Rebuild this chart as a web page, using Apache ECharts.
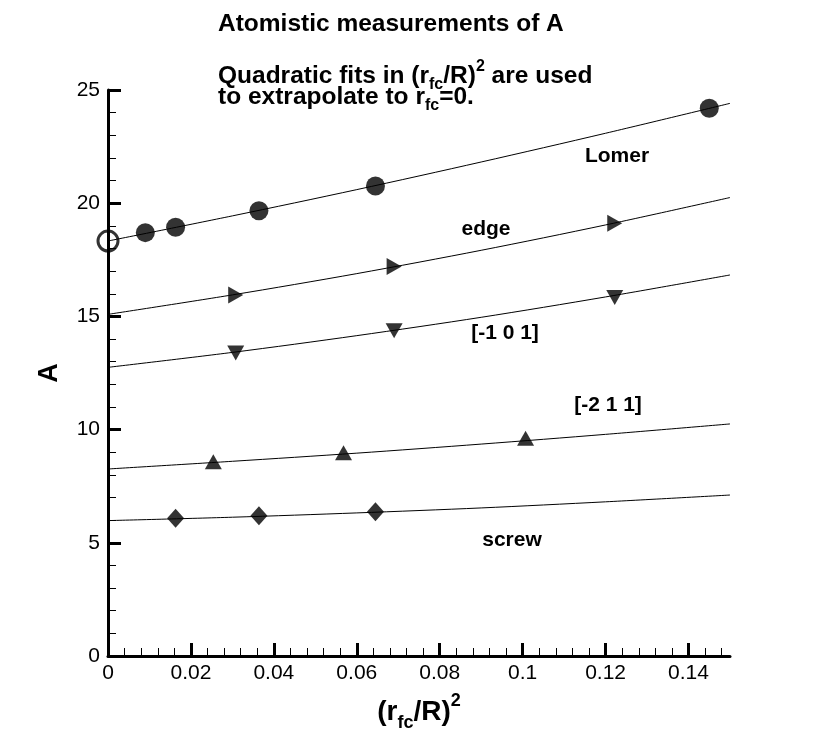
<!DOCTYPE html>
<html>
<head>
<meta charset="utf-8">
<script src="https://cdn.jsdelivr.net/npm/echarts@6/dist/echarts.min.js"></script>
<style>
html,body{margin:0;padding:0;background:#fff;}
#main{width:830px;height:739px;}
</style>
</head>
<body>
<div id="main"></div>
<script>
// ---- data ----
const xTicks = [0, 0.02, 0.04, 0.06, 0.08, 0.1, 0.12, 0.14];
const yTicks = [0, 5, 10, 15, 20, 25];

const fitX = [0, 0.03, 0.06, 0.09, 0.12, 0.15];

const lomerX = [0.009, 0.0163, 0.0364, 0.0645, 0.145];
const lomerY = [18.70, 18.94, 19.67, 20.76, 24.19];
const lomerExtrapX = [0];
const lomerExtrapY = [18.33];
const lomerFit = [18.33, 19.44, 20.60, 21.82, 23.09, 24.41];

const edgeX = [0.0308, 0.069, 0.1222];
const edgeY = [15.94, 17.20, 19.11];
const edgeFit = [15.09, 15.95, 16.89, 17.92, 19.04, 20.25];

const m101X = [0.0308, 0.069, 0.1222];
const m101Y = [13.38, 14.37, 15.84];
const m101Fit = [12.75, 13.41, 14.15, 14.96, 15.86, 16.83];

const m211X = [0.0254, 0.0568, 0.1007];
const m211Y = [8.58, 8.98, 9.62];
const m211Fit = [8.26, 8.60, 8.96, 9.36, 9.79, 10.25];

const screwX = [0.0163, 0.0364, 0.0645];
const screwY = [6.08, 6.20, 6.37];
const screwFit = [5.98, 6.13, 6.32, 6.54, 6.81, 7.11];

const curveLabels = ['Lomer', 'edge', '[-1 0 1]', '[-2 1 1]', 'screw'];

// ---- helpers ----
const F = '"Liberation Sans", Arial, Helvetica, sans-serif';
const pairs = (xs, ys) => xs.map((x, i) => [x, ys[i]]);
const xMinor = [];
for (let i = 0; i < xTicks.length; i++) {
  for (let k = 1; k < 5; k++) {
    const v = +(xTicks[i] + k * 0.004).toFixed(3);
    if (v < 0.15) xMinor.push(v);
  }
}
const rich = (fs, ss, lh) => ({
  n: {fontSize: fs, fontWeight: 'bold', fontFamily: F, color: '#000', lineHeight: lh, verticalAlign: 'middle'},
  s: {fontSize: ss, fontWeight: 'bold', fontFamily: F, color: '#000', lineHeight: ss, verticalAlign: 'bottom'},
  p: {fontSize: ss, fontWeight: 'bold', fontFamily: F, color: '#000', lineHeight: Math.round(ss * 1.4), verticalAlign: 'top'}
});

const fitLine = (ys) => ({
  type: 'line', data: pairs(fitX, ys), smooth: 0.3, symbol: 'none',
  lineStyle: {color: '#000', width: 1}, silent: true, z: 2
});
const marks = (xs, ys, symbol, size) => ({
  type: 'scatter', data: pairs(xs, ys), symbol: symbol, symbolSize: size,
  itemStyle: {color: '#000'}, clip: false, silent: true, z: 3
});

const chart = echarts.init(document.getElementById('main'), null, {renderer: 'canvas'});
chart.setOption({
  animation: false,
  backgroundColor: '#fff',
  grid: {left: 108, right: 100, top: 90, bottom: 83, containLabel: false, outerBoundsMode: 'none'},
  xAxis: [{
    type: 'value', min: 0, max: 0.15,
    axisLine: {show: true, onZero: false, lineStyle: {color: '#000', width: 3}},
    axisTick: {show: true, inside: true, length: 13, lineStyle: {color: '#000', width: 3}, customValues: xTicks},
    axisLabel: {customValues: xTicks, color: '#000', fontSize: 21, fontFamily: F, margin: 7,
      formatter: v => String(+(+v).toFixed(2))},
    splitLine: {show: false},
    name: '{n|(r}{s|fc}{n|/R)}{p|2}',
    nameLocation: 'middle', nameGap: 36,
    nameTextStyle: {rich: rich(28, 18, 40)}
  }, {
    type: 'value', min: 0, max: 0.15, position: 'bottom',
    axisLine: {show: false},
    axisTick: {show: true, inside: true, length: 8, lineStyle: {color: '#000', width: 1}, customValues: xMinor},
    axisLabel: {show: false},
    splitLine: {show: false}
  }],
  yAxis: {
    type: 'value', min: 0, max: 25, interval: 5,
    axisLine: {show: true, onZero: false, lineStyle: {color: '#000', width: 3}},
    axisTick: {show: true, inside: true, length: 13, lineStyle: {color: '#000', width: 3}},
    minorTick: {show: true, splitNumber: 5, length: 8, lineStyle: {color: '#000', width: 1}},
    axisLabel: {color: '#000', fontSize: 21, fontFamily: F, margin: 8},
    splitLine: {show: false},
    name: 'A', nameLocation: 'middle', nameGap: 45, nameRotate: 90,
    nameTextStyle: {color: '#000', fontSize: 27, fontWeight: 'bold', fontFamily: F}
  },
  series: [
    fitLine(lomerFit), fitLine(edgeFit), fitLine(m101Fit), fitLine(m211Fit), fitLine(screwFit),
    marks(lomerX, lomerY, 'circle', 19),
    {
      type: 'scatter', data: pairs(lomerExtrapX, lomerExtrapY), symbol: 'circle', symbolSize: 20,
      itemStyle: {color: 'rgba(255,255,255,0)', borderColor: '#000', borderWidth: 3}, clip: false, silent: true, z: 4
    },
    marks(edgeX, edgeY, 'path://M0,0 L10,5 L0,10 Z', [15, 17]),
    marks(m101X, m101Y, 'path://M0,0 L10,0 L5,10 Z', [17, 15]),
    marks(m211X, m211Y, 'path://M5,0 L10,10 L0,10 Z', [17, 15]),
    marks(screwX, screwY, 'diamond', [17, 19])
  ],
  graphic: [
    {type: 'text', x: 218, y: 24, style: {text: 'Atomistic measurements of A', font: 'bold 24.5px ' + F, fill: '#000', verticalAlign: 'middle'}},
    {type: 'text', x: 218, y: 59, style: {text: '{n|Quadratic fits in (r}{s|fc}{n|/R)}{p|2}{n| are used}', rich: rich(24.5, 16, 34), verticalAlign: 'top'}},
    {type: 'text', x: 218, y: 80, style: {text: '{n|to extrapolate to r}{s|fc}{n|=0.}', rich: rich(24.5, 16, 34), verticalAlign: 'top'}},
    {type: 'text', x: 617, y: 156, style: {text: curveLabels[0], font: 'bold 21px ' + F, fill: '#000', align: 'center', verticalAlign: 'middle'}},
    {type: 'text', x: 486, y: 229, style: {text: curveLabels[1], font: 'bold 21px ' + F, fill: '#000', align: 'center', verticalAlign: 'middle'}},
    {type: 'text', x: 505, y: 333, style: {text: curveLabels[2], font: 'bold 21px ' + F, fill: '#000', align: 'center', verticalAlign: 'middle'}},
    {type: 'text', x: 608, y: 405, style: {text: curveLabels[3], font: 'bold 21px ' + F, fill: '#000', align: 'center', verticalAlign: 'middle'}},
    {type: 'text', x: 512, y: 540, style: {text: curveLabels[4], font: 'bold 21px ' + F, fill: '#000', align: 'center', verticalAlign: 'middle'}}
  ]
});
</script>
</body>
</html>
